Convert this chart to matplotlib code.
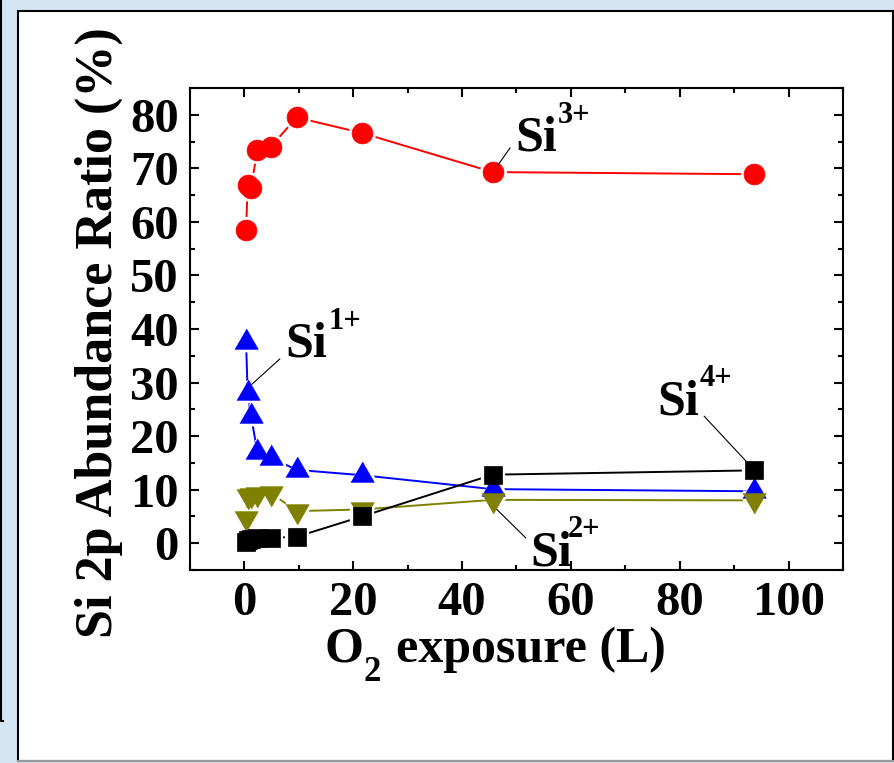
import matplotlib
matplotlib.use("Agg")
import matplotlib.pyplot as plt
from matplotlib.markers import MarkerStyle
from matplotlib.patches import Rectangle
from matplotlib.lines import Line2D
from matplotlib.ticker import MultipleLocator

# O2 exposure (L)
exposure = [0.3, 0.6, 1.2, 2.4, 4.8, 9.6, 21.6, 45.6, 93.6]

# Si 2p abundance ratio (%) for each oxidation state
si3 = [58.4, 66.8, 66.3, 73.5, 74.0, 79.5, 76.6, 69.3, 68.9]
si1 = [37.6, 28.0, 23.8, 17.0, 16.0, 13.7, 12.7, 10.1, 9.7]
si2 = [4.7, 8.8, 9.0, 9.1, 9.4, 6.0, 6.3, 8.1, 8.0]
si4 = [0.3, 0.6, 0.8, 0.9, 1.0, 1.2, 5.0, 12.8, 13.6]

x_ticks = [0, 20, 40, 60, 80, 100]
y_ticks = [0, 10, 20, 30, 40, 50, 60, 70, 80]

plt.rcParams['font.family'] = ['Liberation Serif', 'DejaVu Serif']
plt.rcParams['font.weight'] = 'bold'

W, H = 895, 763
fig = plt.figure(figsize=(W / 100, H / 100), dpi=100)
fig.patch.set_facecolor('#d5e4f2')


def fx(px):
    return px / W


def fy(py):
    return 1 - py / H


# white panel and the edge of the neighbouring box
fig.patches.append(Rectangle((fx(18), fy(761)), fx(893) - fx(18), fy(11) - fy(761),
                             transform=fig.transFigure, facecolor='white',
                             edgecolor='black', linewidth=1.5, zorder=-10))
fig.lines.append(Line2D([fx(18), fx(893)], [fy(761), fy(761)],
                        transform=fig.transFigure, color='#999999', linewidth=1.5,
                        zorder=-9))
fig.lines.append(Line2D([fx(1.5), fx(1.5), fx(3.5)], [fy(0), fy(721), fy(721)],
                        transform=fig.transFigure, color='black', linewidth=1.5,
                        zorder=-10))

ax_l, ax_r, ax_t, ax_b = 190, 843, 88, 570
ax = fig.add_axes([fx(ax_l), fy(ax_b), fx(ax_r) - fx(ax_l), fy(ax_t) - fy(ax_b)])
ax.set_zorder(5)
ax.set_facecolor('white')
ax.set_xlim(-10, 110)
ax.set_ylim(-5, 85)


def axpos(px, py):
    # pixel position in the picture -> axes fraction
    return (px - ax_l) / (ax_r - ax_l), (ax_b - py) / (ax_b - ax_t)


# triangles centred on their centroid, as the original software draws them
tri_up = MarkerStyle([(-1, -0.58), (1, -0.58), (0, 1.16)], joinstyle='round')
tri_dn = MarkerStyle([(-1, 0.58), (1, 0.58), (0, -1.16)], joinstyle='round')
circ = MarkerStyle('o')
sq = MarkerStyle('s', joinstyle='miter')

series = [
    (si3, 'red', circ, 15),
    (si1, 'blue', tri_up, 19.5),
    (si2, '#808000', tri_dn, 19.5),
    (si4, 'black', sq, 13),
]

# connecting lines
for vals, col, mk, ms in series:
    ax.plot(exposure, vals, '-', color=col, linewidth=1.4, zorder=2)
# white halo so lines stop short of the markers
for vals, col, mk, ms in series:
    ax.plot(exposure, vals, linestyle='none', marker=mk, markersize=ms,
            markerfacecolor='white', markeredgecolor='white',
            markeredgewidth=4.5, zorder=3)
for vals, col, mk, ms in series:
    ax.plot(exposure, vals, linestyle='none', marker=mk, markersize=ms,
            markerfacecolor=col, markeredgecolor=col, markeredgewidth=0.5,
            zorder=4)

# labels with leader lines
labels = [
    ('3+', (49.7, 73.3), (57.6, 78.5), (48.8, 73.8), (46.6, 70.6)),
    ('1+', (7.6, 34.8), (15.5, 40.0), (6.5, 34.4), (1.4, 29.7)),
    ('4+', (75.8, 24.1), (83.7, 29.3), (84.5, 23.7), (92.2, 15.3)),
    ('2+', (52.6, -4.1), (59.5, 1.2), (51.7, 1.0), (46.4, 6.3)),
]
for sup, pos, sup_pos, l0, l1 in labels:
    ax.text(pos[0], pos[1], 'Si', fontsize=36, fontweight='bold',
            ha='left', va='baseline', zorder=6, clip_on=False)
    ax.text(sup_pos[0], sup_pos[1], sup, fontsize=22, fontweight='bold',
            ha='left', va='baseline', zorder=6, clip_on=False)
    ax.plot([l0[0], l1[0]], [l0[1], l1[1]], color='black', linewidth=0.8,
            zorder=5, clip_on=False)

ax.set_xticks(x_ticks)
ax.set_yticks(y_ticks)
ax.xaxis.set_minor_locator(MultipleLocator(10))
ax.yaxis.set_minor_locator(MultipleLocator(5))
ax.tick_params(which='both', direction='in', top=True, right=True, width=1.5)
ax.tick_params(which='major', length=6.5)
ax.tick_params(which='minor', length=3.3)
ax.tick_params(axis='x', which='major', labelsize=35, pad=8)
ax.tick_params(axis='y', which='major', labelsize=35, pad=8)
for lab in ax.get_xticklabels() + ax.get_yticklabels():
    lab.set_fontweight('bold')
for sp in ax.spines.values():
    sp.set_linewidth(1.5)

# x axis title: O, subscript 2, rest
ax.text(*axpos(325, 662), 'O', transform=ax.transAxes, fontsize=36,
        fontweight='bold', ha='left', va='baseline')
ax.text(*axpos(364, 681), '2', transform=ax.transAxes, fontsize=25,
        fontweight='bold', ha='left', va='baseline')
ax.text(*axpos(396, 662), 'exposure (L)', transform=ax.transAxes, fontsize=36,
        fontweight='bold', ha='left', va='baseline')
ax.text(*axpos(99, 333), 'Si 2p Abundance Ratio (%)', transform=ax.transAxes,
        fontsize=37.5, fontweight='bold', rotation=90, ha='center', va='center')

fig.savefig('out.png', dpi=100, facecolor=fig.get_facecolor())
